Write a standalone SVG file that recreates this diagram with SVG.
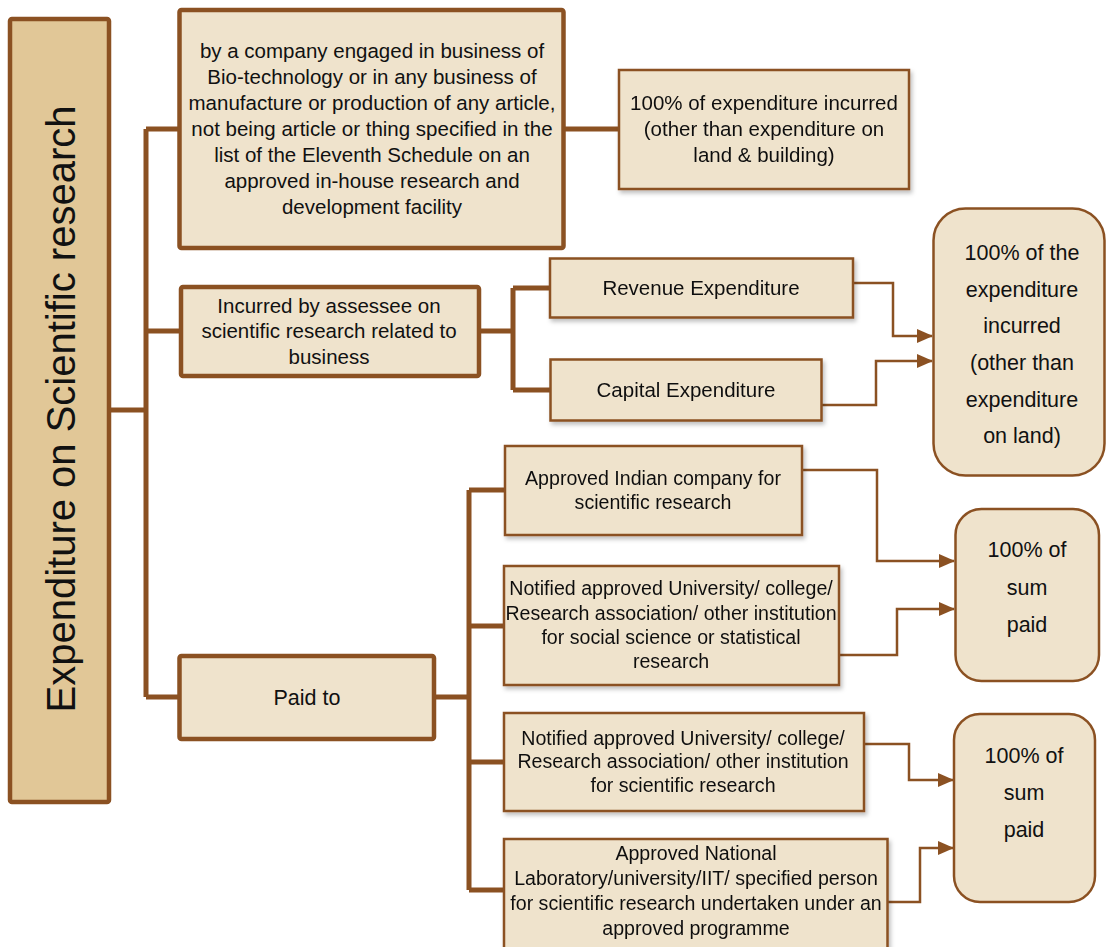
<svg xmlns="http://www.w3.org/2000/svg" width="1106" height="947" viewBox="0 0 1106 947">
<style>
.box{fill:#efe3cc;stroke:#8b5122;stroke-width:2.5}
.thick{stroke-width:4.5}
.title{fill:#e1c797;stroke:#8b5122;stroke-width:4.5}
.t{font-family:"Liberation Sans",Arial,sans-serif;font-size:20.5px;fill:#111;text-anchor:middle}
.ts{font-family:"Liberation Sans",Arial,sans-serif;font-size:19.6px;fill:#111;text-anchor:middle}
.tb{font-family:"Liberation Sans",Arial,sans-serif;font-size:21.5px;fill:#111;text-anchor:middle}
.tt{font-family:"Liberation Sans",Arial,sans-serif;font-size:40px;fill:#111;text-anchor:middle}
.c{fill:none;stroke:#8b5122;stroke-width:5;stroke-linejoin:round}
.a{fill:none;stroke:#8b5122;stroke-width:2.5;marker-end:url(#arr)}
</style>
<defs>
<marker id="arr" markerWidth="16" markerHeight="14" refX="15" refY="7" orient="auto" markerUnits="userSpaceOnUse">
<path d="M0,0 L16,7 L0,14 Z" fill="#8b5122"/>
</marker>
<filter id="sh" x="-5%" y="-5%" width="115%" height="120%">
<feDropShadow dx="2" dy="3" stdDeviation="2" flood-color="#000" flood-opacity="0.25"/>
</filter>
</defs>
<rect width="1106" height="947" fill="#fff"/>
<g id="connectors">
<path class="c" d="M110,410 H146 M146,129 V697 M146,129 H180 M146,331 H182 M146,697 H180"/>
<path class="c" d="M565,129 H620"/>
<path class="c" d="M478,331 H513 M513,288 V390 M513,288 H551 M513,390 H551"/>
<path class="c" d="M435,697 H469 M469,490 V890 M469,490 H505 M469,626 H505 M469,762 H505 M469,890 H505"/>
<path class="a" d="M853,283 H893 V336 H932"/>
<path class="a" d="M822,405 H876 V361 H932"/>
<path class="a" d="M802,470 H877 V561 H954"/>
<path class="a" d="M839,655 H897 V609 H954"/>
<path class="a" d="M864,744 H909 V780 H953"/>
<path class="a" d="M888,902 H920 V848 H953"/>
</g>
<g id="title">
<rect class="title" x="10" y="19" width="99" height="783" rx="2"/>
<text class="tt" transform="translate(75,409) rotate(-90)">Expenditure on Scientific research</text>
</g>
<g id="company">
<rect class="box thick" x="179.5" y="10" width="384" height="238" rx="2"/>
<text class="t" x="372" y="58">by a company engaged in business of</text>
<text class="t" x="372" y="84">Bio-technology or in any business of</text>
<text class="t" x="372" y="110">manufacture or production of any article,</text>
<text class="t" x="372" y="136">not being article or thing specified in the</text>
<text class="t" x="372" y="162">list of the Eleventh Schedule on an</text>
<text class="t" x="372" y="188">approved in-house research and</text>
<text class="t" x="372" y="214">development facility</text>
</g>
<g id="pct-land-building" filter="url(#sh)">
<rect class="box" x="619" y="70" width="290" height="119"/>
<text class="t" x="764" y="110">100% of expenditure incurred</text>
<text class="t" x="764" y="136">(other than expenditure on</text>
<text class="t" x="764" y="162">land &amp; building)</text>
</g>
<g id="incurred">
<rect class="box thick" x="181" y="287" width="298" height="89" rx="2"/>
<text class="t" x="329" y="313">Incurred by assessee on</text>
<text class="t" x="329" y="338">scientific research related to</text>
<text class="t" x="329" y="364">business</text>
</g>
<g id="revenue" filter="url(#sh)">
<rect class="box" x="550" y="258.5" width="303" height="59"/>
<text class="t" x="701" y="295">Revenue Expenditure</text>
</g>
<g id="capital" filter="url(#sh)">
<rect class="box" x="550.5" y="359.5" width="271" height="61"/>
<text class="t" x="686" y="397">Capital Expenditure</text>
</g>
<g id="pct-land">
<rect class="box" x="933.5" y="208.5" width="171" height="267" rx="32"/>
<text class="tb" x="1022" y="260">100% of the</text>
<text class="tb" x="1022" y="297">expenditure</text>
<text class="tb" x="1022" y="333">incurred</text>
<text class="tb" x="1022" y="370">(other than</text>
<text class="tb" x="1022" y="407">expenditure</text>
<text class="tb" x="1022" y="443">on land)</text>
</g>
<g id="paid-to">
<rect class="box thick" x="179.5" y="656" width="254.5" height="83" rx="2"/>
<text class="tb" x="307" y="705">Paid to</text>
</g>
<g id="indian-company" filter="url(#sh)">
<rect class="box" x="505" y="446" width="297" height="89"/>
<text class="ts" x="653" y="485">Approved Indian company for</text>
<text class="ts" x="653" y="509">scientific research</text>
</g>
<g id="social-science" filter="url(#sh)">
<rect class="box" x="504" y="566" width="335" height="119"/>
<text class="ts" x="671" y="595">Notified approved University/ college/</text>
<text class="ts" x="671" y="620">Research association/ other institution</text>
<text class="ts" x="671" y="644">for social science or statistical</text>
<text class="ts" x="671" y="668">research</text>
</g>
<g id="sum-paid-1">
<rect class="box" x="955.5" y="509" width="143.5" height="172" rx="26"/>
<text class="tb" x="1027" y="557">100% of</text>
<text class="tb" x="1027" y="595">sum</text>
<text class="tb" x="1027" y="632">paid</text>
</g>
<g id="scientific-institution" filter="url(#sh)">
<rect class="box" x="504" y="713" width="360" height="98"/>
<text class="ts" x="683" y="745">Notified approved University/ college/</text>
<text class="ts" x="683" y="768">Research association/ other institution</text>
<text class="ts" x="683" y="792">for scientific research</text>
</g>
<g id="national-lab" filter="url(#sh)">
<rect class="box" x="504" y="839" width="383.5" height="110"/>
<text class="ts" x="696" y="860">Approved National</text>
<text class="ts" x="696" y="885">Laboratory/university/IIT/ specified person</text>
<text class="ts" x="696" y="910">for scientific research undertaken under an</text>
<text class="ts" x="696" y="935">approved programme</text>
</g>
<g id="sum-paid-2">
<rect class="box" x="954" y="714" width="141" height="188" rx="26"/>
<text class="tb" x="1024" y="763">100% of</text>
<text class="tb" x="1024" y="800">sum</text>
<text class="tb" x="1024" y="837">paid</text>
</g>
</svg>
